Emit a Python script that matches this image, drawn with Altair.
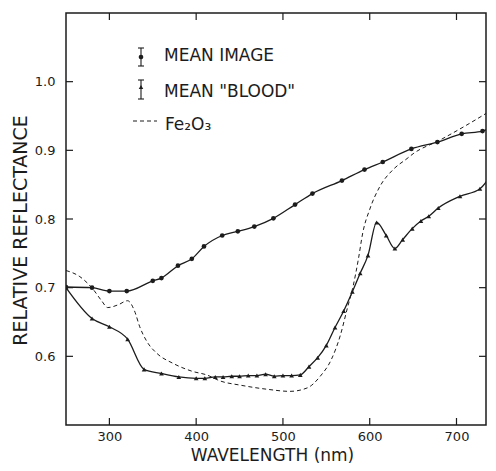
import altair as alt
import pandas as pd

# ---- data ----
image_wl = [250, 280, 300, 320, 350, 360, 379, 395, 409, 430, 448, 467, 489, 514,
            534, 568, 594, 615, 648, 678, 706, 730, 750]
image_r = [0.701, 0.700, 0.695, 0.695, 0.710, 0.714, 0.732, 0.742, 0.760, 0.776,
           0.782, 0.789, 0.801, 0.821, 0.837, 0.856, 0.872, 0.883, 0.902, 0.912,
           0.924, 0.928, 0.944]

blood_wl = [250, 280, 300, 321, 340, 360, 380, 400, 410, 422, 431, 441, 450, 460,
            470, 480, 490, 500, 510, 520, 530, 540, 550, 560, 570, 580, 589, 598,
            608, 619, 629, 638, 649, 659, 668, 679, 704, 727, 750]
blood_r = [0.700, 0.655, 0.643, 0.625, 0.581, 0.575, 0.570, 0.568, 0.568, 0.570,
           0.570, 0.571, 0.571, 0.572, 0.572, 0.574, 0.571, 0.572, 0.572, 0.573,
           0.585, 0.598, 0.616, 0.642, 0.666, 0.694, 0.721, 0.747, 0.795, 0.776,
           0.757, 0.770, 0.786, 0.797, 0.804, 0.816, 0.833, 0.844, 0.887]

fe_wl = [250, 266, 281, 291, 298, 310, 321, 329, 335, 343, 355, 373, 396, 412, 428,
         451, 482, 508, 528, 543, 556, 566, 574, 581, 587, 592, 600, 612, 627, 643,
         650, 681, 712, 746]
fe_r = [0.725, 0.716, 0.698, 0.681, 0.671, 0.675, 0.681, 0.666, 0.643, 0.622,
        0.604, 0.590, 0.578, 0.573, 0.564, 0.558, 0.552, 0.549, 0.554, 0.571,
        0.596, 0.630, 0.669, 0.703, 0.742, 0.780, 0.814, 0.848, 0.872, 0.888,
        0.895, 0.915, 0.937, 0.963]

x_ticks = [300, 400, 500, 600, 700]
y_ticks = [0.6, 0.7, 0.8, 0.9, 1.0]
legend_labels = ["MEAN IMAGE", 'MEAN "BLOOD"', "Fe\u2082O\u2083"]

# ---- styling ----
W, H = 420, 412
FONT = "DejaVu Sans"
INK = "#1c1c1c"
TL = 7  # inward tick length

img_df = pd.DataFrame({"wl": image_wl, "r": image_r})
bld_df = pd.DataFrame({"wl": blood_wl, "r": blood_r})
fe_df = pd.DataFrame({"wl": fe_wl, "r": fe_r})
xt_df = pd.DataFrame({"t": x_ticks})
yt_df = pd.DataFrame({"t": y_ticks})

xscale = alt.Scale(domain=[250, 734], nice=False, zero=False)
yscale = alt.Scale(domain=[0.5, 1.1], nice=False, zero=False)

xaxis = alt.Axis(title="WAVELENGTH (nm)", values=x_ticks, format="d", ticks=False,
                 domain=False, grid=False, labelFont=FONT, labelFontSize=13,
                 labelColor=INK, labelPadding=5, titleFont=FONT, titleFontSize=17,
                 titleFontWeight="normal", titleColor=INK, titlePadding=4,
                 titleX=206)
yaxis = alt.Axis(title="RELATIVE REFLECTANCE", values=y_ticks, format=".1f",
                 ticks=False, domain=False, grid=False, labelFont=FONT,
                 labelFontSize=13, labelColor=INK, labelPadding=11,
                 titleFont=FONT, titleFontSize=19, titleFontWeight="normal",
                 titleColor=INK, titlePadding=4, titleY=217)

X = lambda f: alt.X(f, type="quantitative", scale=xscale, axis=xaxis)
Y = lambda f: alt.Y(f, type="quantitative", scale=yscale, axis=yaxis)

img_line = alt.Chart(img_df).mark_line(interpolate="monotone", color=INK,
                                       strokeWidth=1.3, clip=True).encode(x=X("wl"), y=Y("r"))
img_pts = alt.Chart(img_df).mark_point(filled=True, shape="circle", size=22, color=INK,
                                       opacity=1, clip=True).encode(x=X("wl"), y=Y("r"))
bld_line = alt.Chart(bld_df).mark_line(interpolate="monotone", color=INK,
                                       strokeWidth=1.3, clip=True).encode(x=X("wl"), y=Y("r"))
bld_pts = alt.Chart(bld_df).mark_point(filled=True, shape="triangle-up", size=22,
                                       color=INK, opacity=1, clip=True).encode(x=X("wl"), y=Y("r"))
fe_line = alt.Chart(fe_df).mark_line(interpolate="monotone", color=INK, strokeWidth=1.0,
                                     strokeDash=[4, 3], clip=True).encode(x=X("wl"), y=Y("r"))

# inward ticks on all four sides
t_bottom = alt.Chart(xt_df).mark_rule(color=INK, strokeWidth=1.2).encode(
    x=X("t"), y=alt.value(H - TL), y2=alt.value(H))
t_top = alt.Chart(xt_df).mark_rule(color=INK, strokeWidth=1.2).encode(
    x=X("t"), y=alt.value(0), y2=alt.value(TL))
t_left = alt.Chart(yt_df).mark_rule(color=INK, strokeWidth=1.2).encode(
    y=Y("t"), x=alt.value(0), x2=alt.value(TL))
t_right = alt.Chart(yt_df).mark_rule(color=INK, strokeWidth=1.2).encode(
    y=Y("t"), x=alt.value(W - TL), x2=alt.value(W))

# ---- hand-drawn legend (top-left, inside plot) ----
def one(i):
    return pd.DataFrame({"label": [legend_labels[i]]})

def errbar(i, xc, y0, y1):
    d = one(i)
    bar = alt.Chart(d).mark_rule(color=INK, strokeWidth=1.1).encode(
        x=alt.value(xc), y=alt.value(y0), y2=alt.value(y1))
    cap1 = alt.Chart(d).mark_rule(color=INK, strokeWidth=1.1).encode(
        x=alt.value(xc - 3), x2=alt.value(xc + 3), y=alt.value(y0))
    cap2 = alt.Chart(d).mark_rule(color=INK, strokeWidth=1.1).encode(
        x=alt.value(xc - 3), x2=alt.value(xc + 3), y=alt.value(y1))
    return [bar, cap1, cap2]

leg_layers = []
leg_layers += errbar(0, 75, 35, 53)
leg_layers.append(alt.Chart(one(0)).mark_point(filled=True, shape="circle", size=22,
                  color=INK, opacity=1).encode(x=alt.value(75), y=alt.value(44)))
leg_layers += errbar(1, 75, 67, 86)
leg_layers.append(alt.Chart(one(1)).mark_point(filled=True, shape="triangle-up", size=20,
                  color=INK, opacity=1).encode(x=alt.value(75), y=alt.value(74)))
leg_layers.append(alt.Chart(one(2)).mark_rule(color=INK, strokeWidth=1.0,
                  strokeDash=[4, 3]).encode(x=alt.value(67), x2=alt.value(91),
                                            y=alt.value(108)))
for i, (lx, ly) in enumerate([(98, 43), (98, 79), (99, 112)]):
    leg_layers.append(alt.Chart(one(i)).mark_text(align="left", baseline="middle",
                      font=FONT, fontSize=17, color=INK).encode(
        text="label:N", x=alt.value(lx), y=alt.value(ly)))

chart = alt.layer(
    img_line, img_pts, bld_line, bld_pts, fe_line,
    t_bottom, t_top, t_left, t_right, *leg_layers
).properties(
    width=W, height=H,
    padding={"left": 3, "top": 4, "right": 0, "bottom": 0},
    background="white",
).configure_view(stroke=INK, strokeWidth=1.5)

chart.save("out.html", embed_options={"renderer": "svg", "actions": False})
